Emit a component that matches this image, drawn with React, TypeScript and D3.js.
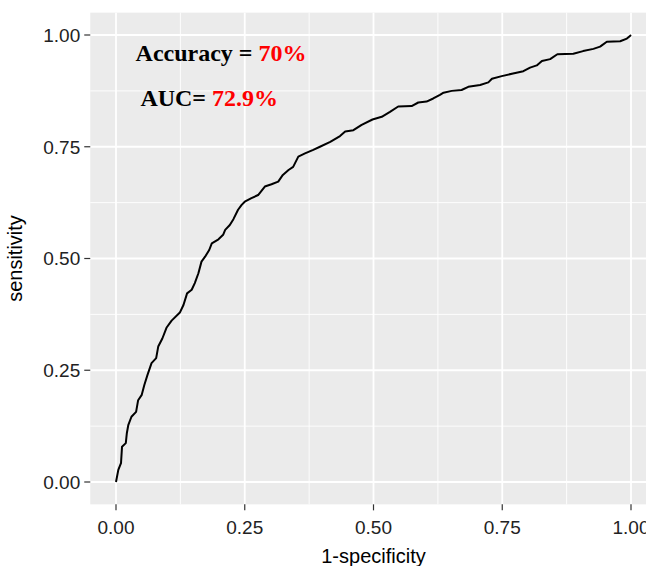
import React, { useEffect, useRef } from 'react';
import * as d3 from 'd3';

// ROC curve points (1-specificity, sensitivity)
const fpr = [
  0, 0.0045, 0.0097, 0.0117, 0.019, 0.021, 0.024, 0.03, 0.039, 0.043, 0.05,
  0.055, 0.061, 0.069, 0.078, 0.082, 0.09, 0.098, 0.108, 0.124, 0.131, 0.138,
  0.147, 0.153, 0.16, 0.166, 0.173, 0.181, 0.186, 0.199, 0.208, 0.212, 0.221,
  0.228, 0.237, 0.244, 0.25, 0.263, 0.276, 0.289, 0.302, 0.315, 0.324, 0.335,
  0.344, 0.354, 0.367, 0.383, 0.396, 0.416, 0.435, 0.445, 0.461, 0.477, 0.498,
  0.516, 0.532, 0.548, 0.574, 0.587, 0.603, 0.616, 0.629, 0.636, 0.652, 0.671,
  0.684, 0.707, 0.723, 0.73, 0.749, 0.771, 0.791, 0.804, 0.817, 0.827, 0.843,
  0.857, 0.888, 0.907, 0.927, 0.94, 0.953, 0.979, 0.992, 0.998, 1,
];
const tpr = [
  0, 0.027, 0.042, 0.079, 0.087, 0.109, 0.128, 0.146, 0.157, 0.183, 0.195,
  0.217, 0.239, 0.266, 0.277, 0.303, 0.321, 0.345, 0.361, 0.379, 0.396, 0.422,
  0.43, 0.445, 0.467, 0.493, 0.504, 0.519, 0.534, 0.543, 0.553, 0.564, 0.575,
  0.588, 0.609, 0.62, 0.627, 0.635, 0.642, 0.661, 0.666, 0.672, 0.687, 0.698,
  0.705, 0.728, 0.735, 0.743, 0.75, 0.761, 0.774, 0.784, 0.787, 0.799, 0.811,
  0.817, 0.828, 0.84, 0.841, 0.849, 0.851, 0.858, 0.866, 0.871, 0.875, 0.877,
  0.884, 0.888, 0.894, 0.902, 0.908, 0.914, 0.919, 0.927, 0.932, 0.942, 0.946,
  0.957, 0.958, 0.964, 0.969, 0.974, 0.985, 0.986, 0.992, 0.998, 1,
];

const majorTicks = [0, 0.25, 0.5, 0.75, 1];
const minorTicks = [0.125, 0.375, 0.625, 0.875];
const tickLabels = ['0.00', '0.25', '0.50', '0.75', '1.00'];

const accuracyText = ['Accuracy = ', '70%'];
const aucText = ['AUC= ', '72.9%'];

const W = 646;
const H = 566;

const App = () => {
  const ref = useRef<SVGSVGElement>(null);

  useEffect(() => {
    if (!ref.current) return;
    const svg = d3.select(ref.current);
    svg.selectAll('*').remove();

    // panel box, ggplot expands 5% each side
    const left = 90.25;
    const right = 656.75;
    const top = 12.65;
    const bottom = 504.35;

    const x = d3.scaleLinear().domain([-0.05, 1.05]).range([left, right]);
    const y = d3.scaleLinear().domain([-0.05, 1.05]).range([bottom, top]);

    svg
      .append('rect')
      .attr('x', left)
      .attr('y', top)
      .attr('width', right - left)
      .attr('height', bottom - top)
      .attr('fill', '#EBEBEB');

    const grid = svg.append('g');
    // minor grid
    minorTicks.forEach((t) => {
      grid.append('line').attr('x1', x(t)).attr('x2', x(t)).attr('y1', top).attr('y2', bottom)
        .attr('stroke', '#fff').attr('stroke-width', 0.9);
      grid.append('line').attr('y1', y(t)).attr('y2', y(t)).attr('x1', left).attr('x2', right)
        .attr('stroke', '#fff').attr('stroke-width', 0.9);
    });
    // major grid
    majorTicks.forEach((t) => {
      grid.append('line').attr('x1', x(t)).attr('x2', x(t)).attr('y1', top).attr('y2', bottom)
        .attr('stroke', '#fff').attr('stroke-width', 1.8);
      grid.append('line').attr('y1', y(t)).attr('y2', y(t)).attr('x1', left).attr('x2', right)
        .attr('stroke', '#fff').attr('stroke-width', 1.8);
    });

    // roc curve
    const pts = fpr.map((f, i) => [f, tpr[i]] as [number, number]);
    const line = d3
      .line<[number, number]>()
      .x((d) => x(d[0]))
      .y((d) => y(d[1]));
    svg
      .append('path')
      .datum(pts)
      .attr('d', line)
      .attr('fill', 'none')
      .attr('stroke', '#000')
      .attr('stroke-width', 2)
      .attr('stroke-linejoin', 'round');

    // annotations
    const ann = (parts: string[], cx: number, cy: number) => {
      const t = svg
        .append('text')
        .attr('x', x(cx))
        .attr('y', y(cy))
        .attr('text-anchor', 'middle')
        .style('font-family', '"Liberation Serif", "Times New Roman", serif')
        .style('font-weight', 'bold')
        .style('font-size', '24px');
      t.append('tspan').attr('fill', '#000').text(parts[0]);
      t.append('tspan').attr('fill', '#FF0000').text(parts[1]);
    };
    ann(accuracyText, 0.204, 0.942);
    ann(aucText, 0.181, 0.841);

    const font = '"Liberation Sans", Arial, sans-serif';

    // axes ticks + labels
    majorTicks.forEach((t, i) => {
      svg.append('line').attr('x1', x(t)).attr('x2', x(t)).attr('y1', bottom).attr('y2', bottom + 6)
        .attr('stroke', '#333').attr('stroke-width', 1.2);
      svg.append('text').attr('x', x(t)).attr('y', 534).attr('text-anchor', 'middle')
        .style('font-family', font).style('font-size', '19px').attr('fill', '#222')
        .text(tickLabels[i]);

      svg.append('line').attr('x1', left - 6).attr('x2', left).attr('y1', y(t)).attr('y2', y(t))
        .attr('stroke', '#333').attr('stroke-width', 1.2);
      svg.append('text').attr('x', left - 10).attr('y', y(t)).attr('dy', '0.36em')
        .attr('text-anchor', 'end')
        .style('font-family', font).style('font-size', '19px').attr('fill', '#222')
        .text(tickLabels[i]);
    });

    svg.append('text')
      .attr('x', (left + right) / 2)
      .attr('y', 563)
      .attr('text-anchor', 'middle')
      .style('font-family', font).style('font-size', '20px').attr('fill', '#000')
      .text('1-specificity');

    svg.append('text')
      .attr('transform', `translate(22,${(top + bottom) / 2}) rotate(-90)`)
      .attr('text-anchor', 'middle')
      .style('font-family', font).style('font-size', '20px').attr('fill', '#000')
      .text('sensitivity');
  }, []);

  return (
    <svg
      ref={ref}
      width={W}
      height={H}
      style={{ position: 'absolute', left: 0, top: 0, background: '#fff' }}
    />
  );
};

export default App;
